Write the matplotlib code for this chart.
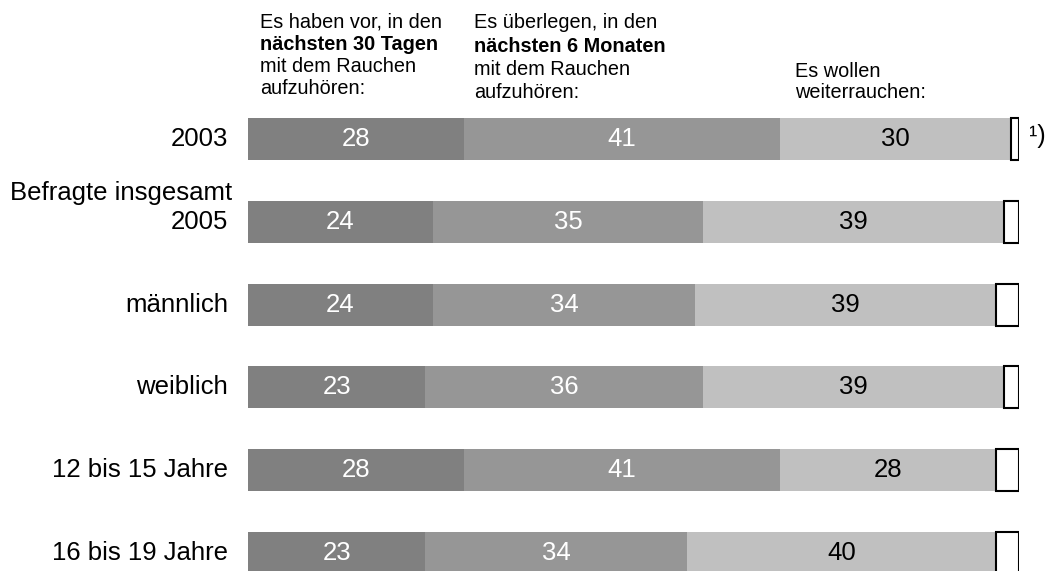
import matplotlib
matplotlib.use("Agg")
import matplotlib.pyplot as plt
import numpy as np

plt.rcParams['font.family'] = ['Liberation Sans', 'DejaVu Sans']

categories = ["2003", "2005", "männlich", "weiblich", "12 bis 15 Jahre", "16 bis 19 Jahre"]
tage30 = [28, 24, 24, 23, 28, 23]
monate6 = [41, 35, 34, 36, 41, 34]
weiter = [30, 39, 39, 39, 28, 40]
rest = [1, 2, 3, 2, 3, 3]

colors = ["#808080", "#969696", "#c0c0c0"]
text_colors = ["white", "white", "black"]

W, H = 1050, 571
fig = plt.figure(figsize=(W / 100, H / 100), dpi=100)
ax = fig.add_axes([248 / W, 0, 771 / W, 1])
ax.set_xlim(0, 100)
row_px = 82.8
ax.set_ylim((H - 139) / row_px, -139 / row_px)
ax.axis('off')

y = np.arange(len(categories))
bh = 42 / row_px
left = np.zeros(len(categories))
for vals, c, tc in zip([tage30, monate6, weiter], colors, text_colors):
    vals = np.array(vals, dtype=float)
    ax.barh(y, vals, left=left, height=bh, color=c, edgecolor='none')
    for yi, l, v in zip(y, left, vals):
        ax.text(l + v / 2, yi, f"{int(v)}", ha='center', va='center',
                color=tc, fontsize=18.5)
    left = left + vals
ax.barh(y, rest, left=left, height=bh, color='white', edgecolor='black',
        linewidth=1.5)

# category labels
for yi, cat in zip(y, categories):
    ax.text(-20 / 7.71, yi, cat, ha='right', va='center', fontsize=18.5)
fig.text(232 / W, 1 - 200 / H, "Befragte insgesamt", ha='right',
         va='baseline', fontsize=18.5)


def ftext(x, ybase, s, **kw):
    fig.text(x / W, 1 - ybase / H, s, ha='left', va='baseline', fontsize=14.3, **kw)


h1 = ["Es haben vor, in den", "nächsten 30 Tagen", "mit dem Rauchen", "aufzuhören:"]
for i, (s, b) in enumerate(zip(h1, [27, 49.5, 72, 94.5])):
    ftext(260, b, s, fontweight='bold' if i == 1 else 'normal')
h2 = ["Es überlegen, in den", "nächsten 6 Monaten", "mit dem Rauchen", "aufzuhören:"]
for i, (s, b) in enumerate(zip(h2, [28.5, 52, 75, 97.5])):
    ftext(474, b, s, fontweight='bold' if i == 1 else 'normal')
h3 = ["Es wollen", "weiterrauchen:"]
for s, b in zip(h3, [77, 98]):
    ftext(795, b, s)

fig.text(1029 / W, 1 - 143 / H, "¹)", ha='left', va='baseline', fontsize=18)

fig.savefig("out.png", dpi=100, facecolor='white')
